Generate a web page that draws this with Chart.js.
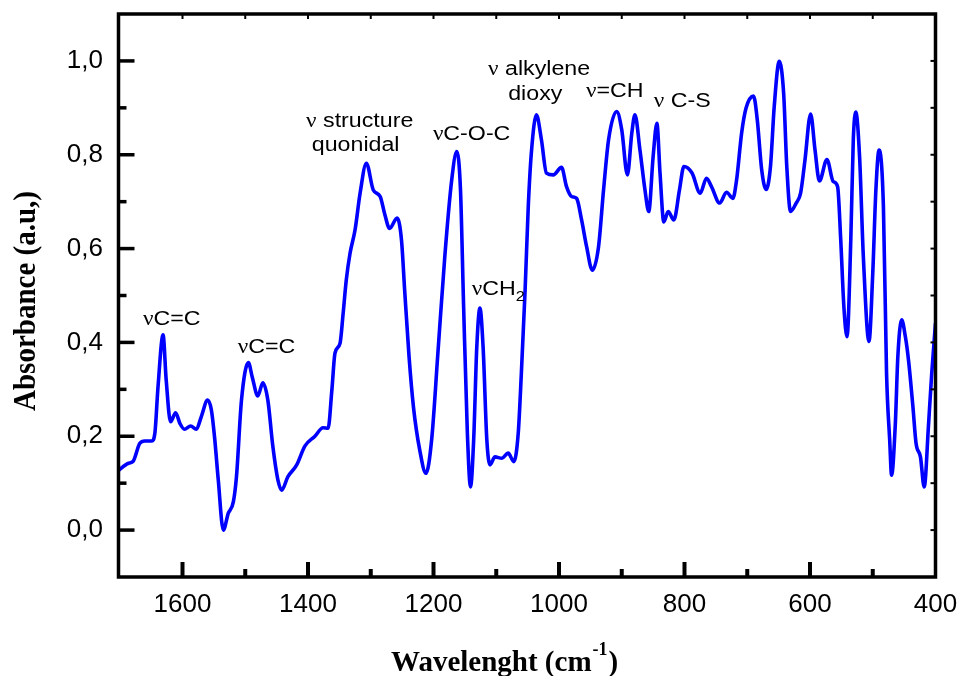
<!DOCTYPE html>
<html>
<head>
<meta charset="utf-8">
<title>FTIR spectrum</title>
<script src="https://cdn.jsdelivr.net/npm/chart.js@4.4.0/dist/chart.umd.min.js"></script>
<style>
  html, body { margin: 0; padding: 0; background: #fff; }
  #wrap { width: 960px; height: 676px; }
</style>
</head>
<body>
<div id="wrap"><canvas id="ftir-chart" width="960" height="676"></canvas></div>
<script>
const wavenumbers = [
  1702, 1687, 1679, 1668, 1660, 1649, 1644, 1639, 1631, 1626,
  1619, 1611, 1604, 1597, 1587, 1578, 1570, 1560, 1554, 1549,
  1543, 1535, 1527, 1519, 1514, 1506, 1495, 1489, 1480, 1472,
  1464, 1456, 1448, 1442, 1432, 1418, 1405, 1389, 1376, 1368,
  1362, 1357, 1349, 1344, 1339, 1333, 1325, 1317, 1307, 1296,
  1285, 1278, 1270, 1258, 1251, 1246, 1239, 1232, 1222, 1212,
  1203, 1193, 1182, 1171, 1163, 1157, 1152, 1146, 1141, 1136,
  1131, 1126, 1121, 1115, 1110, 1102, 1091, 1081, 1072, 1065,
  1060, 1054, 1049, 1044, 1036, 1028, 1020, 1009, 996, 988,
  980, 972, 964, 956, 947, 937, 929, 921, 908, 900,
  891, 884, 879, 871, 863, 857, 850, 844, 839, 833,
  826, 817, 808, 801, 788, 775, 765, 757, 744, 733,
  723, 717, 709, 702, 690, 684, 677, 670, 663, 657,
  649, 642, 637, 631, 622, 615, 608, 599, 592, 585,
  573, 563, 556, 551, 546, 541, 535, 531, 527, 521,
  515, 506, 500, 495, 490, 483, 478, 473, 470, 464,
  460, 454, 448, 443, 436, 431, 424, 418, 411, 406,
  400
];

// absorbance (a.u.)
const absorbance = [
  0.127, 0.142, 0.146, 0.185, 0.19, 0.19, 0.207, 0.306, 0.416, 0.32,
  0.231, 0.25, 0.227, 0.215, 0.222, 0.215, 0.242, 0.277, 0.256, 0.199,
  0.107, 0.0, 0.036, 0.06, 0.114, 0.277, 0.357, 0.327, 0.286, 0.314,
  0.277, 0.178, 0.107, 0.085, 0.114, 0.139, 0.179, 0.2, 0.218, 0.217,
  0.298, 0.377, 0.398, 0.462, 0.533, 0.59, 0.64, 0.718, 0.782, 0.725,
  0.711, 0.675, 0.643, 0.665, 0.618, 0.512, 0.37, 0.263, 0.171, 0.121,
  0.192, 0.377, 0.583, 0.746, 0.807, 0.725, 0.476, 0.206, 0.092, 0.192,
  0.391, 0.473, 0.391, 0.192, 0.139, 0.156, 0.153, 0.164, 0.146, 0.206,
  0.334, 0.512, 0.689, 0.805, 0.885, 0.832, 0.761, 0.757, 0.773, 0.732,
  0.711, 0.707, 0.661, 0.604, 0.554, 0.604, 0.725, 0.832, 0.892, 0.853,
  0.757, 0.846, 0.885, 0.81, 0.725, 0.679, 0.796, 0.867, 0.761, 0.657,
  0.679, 0.661, 0.725, 0.775, 0.761, 0.718, 0.75, 0.732, 0.697, 0.72,
  0.707, 0.746, 0.846, 0.899, 0.925, 0.874, 0.768, 0.726, 0.775, 0.903,
  0.999, 0.931, 0.775, 0.679, 0.697, 0.718, 0.789, 0.887, 0.81, 0.744,
  0.79, 0.743, 0.732, 0.618, 0.476, 0.412, 0.618, 0.832, 0.891, 0.796,
  0.583, 0.402, 0.547, 0.725, 0.81, 0.689, 0.334, 0.192, 0.117, 0.227,
  0.37, 0.448, 0.412, 0.362, 0.263, 0.185, 0.156, 0.092, 0.227, 0.334,
  0.441
];

// tick positions (every 100 cm-1 / every 0.1) and the ones that carry a label
const xTickValues = [1600, 1500, 1400, 1300, 1200, 1100, 1000, 900, 800, 700, 600, 500, 400];
const xTickLabels = [1600, 1400, 1200, 1000, 800, 600, 400];
const yTickValues = [0.0, 0.1, 0.2, 0.3, 0.4, 0.5, 0.6, 0.7, 0.8, 0.9, 1.0];
const yTickLabels = ["0,0", "0,2", "0,4", "0,6", "0,8", "1,0"];

// band assignments written on the spectrum
const bandLabels = ["νC=C", "νC=C", "ν structure", "quonidal", "νC-O-C", "νCH₂",
  "ν alkylene", "dioxy", "ν=CH", "ν C-S"];

// where each band label starts (wavenumber, absorbance of the text baseline)
const bandAnchors = [
  [1663, 0.437], [1512, 0.377], [1403, 0.859], [1394, 0.808], [1201, 0.832],
  [1139, 0.501], [1113, 0.970], [1081, 0.917], [957, 0.923], [849, 0.902]
];

const SANS = '"Liberation Sans", Arial, sans-serif';
const SERIF = '"Liberation Serif", "Times New Roman", serif';

// draws a label, the greek nu in serif, subscript digits lowered
function drawBandText(ctx, text, x, y) {
  ctx.save();
  ctx.translate(x, y);
  ctx.scale(1.16, 1);
  ctx.textAlign = "left";
  ctx.textBaseline = "alphabetic";
  let cx = 0;
  for (const ch of text) {
    let dy = 0;
    let t = ch;
    if (ch === "ν") {
      ctx.font = "20px " + SERIF;
    } else if (ch === "₂") {
      ctx.font = "14px " + SANS;
      t = "2";
      dy = 6;
    } else {
      ctx.font = "20px " + SANS;
    }
    ctx.fillText(t, cx, dy);
    cx += ctx.measureText(t).width;
  }
  ctx.restore();
}

const framePlugin = {
  id: "frame",
  afterDraw(chart) {
    const { ctx, chartArea: a, scales: { x, y } } = chart;
    ctx.save();
    ctx.strokeStyle = "#000";
    ctx.lineCap = "butt";

    const seg = (x1, y1, x2, y2, w) => {
      ctx.lineWidth = w;
      ctx.beginPath();
      ctx.moveTo(x1, y1);
      ctx.lineTo(x2, y2);
      ctx.stroke();
    };

    // inward tick marks, bottom and top
    x.ticks.forEach((t) => {
      const v = Math.round(t.value);
      if (v <= 400) return;
      const px = x.getPixelForValue(v);
      const major = v % 200 === 0;
      seg(px, a.bottom, px, a.bottom - (major ? 15 : 8), 4);
      seg(px, a.top, px, a.top + 5, 2);
    });

    // inward tick marks, left and right
    y.ticks.forEach((t) => {
      const r = Math.round(t.value * 10);
      const py = y.getPixelForValue(t.value);
      const major = r % 2 === 0;
      seg(a.left, py, a.left + (major ? 16 : 8), py, 3.5);
      seg(a.right, py, a.right - 5, py, 2);
    });

    // frame
    ctx.lineWidth = 3.5;
    ctx.strokeRect(a.left, a.top, a.right - a.left, a.bottom - a.top);

    // band labels
    ctx.fillStyle = "#000";
    bandLabels.forEach((txt, i) => {
      const [w, ab] = bandAnchors[i];
      drawBandText(ctx, txt, x.getPixelForValue(w), y.getPixelForValue(ab));
    });

    // x axis title with superscript
    ctx.textBaseline = "alphabetic";
    ctx.textAlign = "left";
    let tx = 391;
    const ty = 671;
    ctx.font = "bold 29px " + SERIF;
    ctx.fillText("Wavelenght (cm", tx, ty);
    tx += ctx.measureText("Wavelenght (cm").width + 1;
    ctx.font = "bold 18px " + SERIF;
    ctx.fillText("-1", tx, ty - 16);
    tx += ctx.measureText("-1").width + 1;
    ctx.font = "bold 29px " + SERIF;
    ctx.fillText(")", tx, ty);

    // y axis title
    ctx.save();
    ctx.translate(35, 301);
    ctx.rotate(-Math.PI / 2);
    ctx.scale(1, 1.12);
    ctx.textAlign = "center";
    ctx.font = "bold 29px " + SERIF;
    ctx.fillText("Absorbance (a.u,)", 0, 0);
    ctx.restore();

    ctx.restore();
  }
};

const points = wavenumbers.map((w, i) => ({ x: w, y: absorbance[i] }));

new Chart(document.getElementById("ftir-chart"), {
  type: "line",
  data: {
    datasets: [
      {
        label: "FTIR",
        data: points,
        borderColor: "rgb(0, 0, 255)",
        borderWidth: 3.6,
        pointRadius: 0,
        fill: false,
        cubicInterpolationMode: "monotone",
      },
    ],
  },
  options: {
    responsive: false,
    animation: false,
    devicePixelRatio: 1,
    layout: { padding: { top: 14, right: 24.5, left: 0, bottom: 0 } },
    plugins: {
      legend: { display: false },
      tooltip: { enabled: false },
    },
    scales: {
      x: {
        type: "linear",
        reverse: true,
        min: 400,
        max: 1702,
        grid: { display: false, drawTicks: false },
        border: { display: false },
        afterBuildTicks: (s) => {
          s.ticks = xTickValues.map((v) => ({ value: v }));
        },
        ticks: {
          autoSkip: false,
          maxRotation: 0,
          padding: 12,
          color: "#000",
          font: { family: SANS, size: 26 },
          callback: (v) => (xTickLabels.includes(Math.round(v)) ? String(Math.round(v)) : ""),
        },
        afterFit: (s) => {
          s.height = 99;
          s.paddingLeft = 0;
          s.paddingRight = 0;
        },
      },
      y: {
        min: -0.1,
        max: 1.1,
        grid: { display: false, drawTicks: false },
        border: { display: false },
        afterBuildTicks: (s) => {
          s.ticks = yTickValues.map((v) => ({ value: v }));
        },
        ticks: {
          autoSkip: false,
          padding: 15.5,
          color: "#000",
          font: { family: SANS, size: 26 },
          callback: (v) => {
            const r = Math.round(v * 10);
            return r % 2 === 0 ? yTickLabels[r / 2] : "";
          },
        },
        afterFit: (s) => {
          s.width = 118.5;
          s.paddingTop = 0;
          s.paddingBottom = 0;
        },
      },
    },
  },
  plugins: [framePlugin],
});
</script>
</body>
</html>
